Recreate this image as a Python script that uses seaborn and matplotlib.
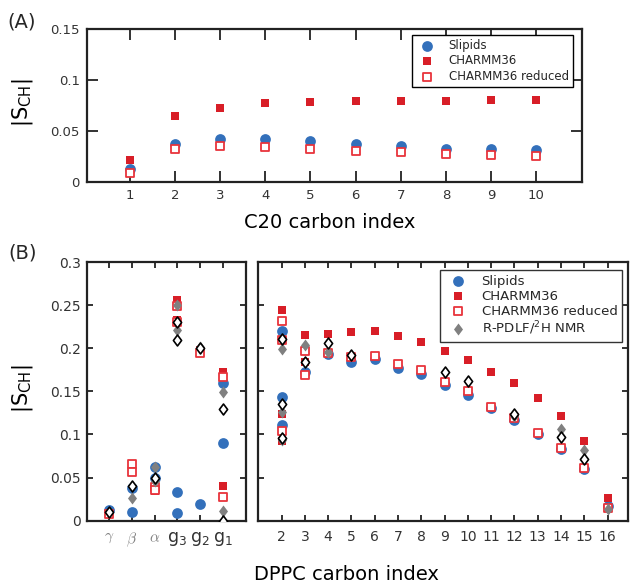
import numpy as np
import pandas as pd
import matplotlib
matplotlib.use("Agg")
import matplotlib.pyplot as plt
import seaborn as sns
from matplotlib.path import Path

sns.set_theme(style="ticks")
plt.rcParams['font.family'] = ['DejaVu Sans']

# ---------------- Panel A data (C20) ----------------
c20_carbons = [1, 2, 3, 4, 5, 6, 7, 8, 9, 10]
c20_slipids = [0.012, 0.0375, 0.0417, 0.0417, 0.040, 0.0375, 0.035, 0.0326, 0.032, 0.031]
c20_charmm = [0.0212, 0.0646, 0.0724, 0.077, 0.078, 0.0796, 0.0796, 0.079, 0.080, 0.080]
c20_reduced = [0.0088, 0.032, 0.035, 0.034, 0.032, 0.030, 0.0287, 0.0277, 0.026, 0.025]
c20_xticks = [1, 2, 3, 4, 5, 6, 7, 8, 9, 10]
a_yticks = [0, 0.05, 0.1, 0.15]
a_yticklabels = ["0", "0.05", "0.1", "0.15"]

# ---------------- Panel B data: head group ----------------
hg_keys = ["gamma", "beta", "alpha", "g3", "g2", "g1"]
hg_ticklabels = [r"$\gamma$", r"$\beta$", r"$\alpha$", r"g$_3$", r"g$_2$", r"g$_1$"]

hg_slipids_at = ["gamma", "beta", "beta", "alpha", "alpha", "g3", "g3", "g2", "g1", "g1"]
hg_slipids = [0.0124, 0.0375, 0.0104, 0.062, 0.049, 0.0336, 0.0093, 0.0193, 0.160, 0.0896]

hg_charmm_at = ["gamma", "beta", "beta", "alpha", "alpha", "g3", "g3", "g2", "g1", "g1"]
hg_charmm = [0.0085, 0.062, 0.058, 0.037, 0.034, 0.2556, 0.2324, 0.1977, 0.1726, 0.040]

hg_reduced_at = ["gamma", "beta", "beta", "alpha", "alpha", "g3", "g3", "g2", "g1", "g1"]
hg_reduced = [0.008, 0.066, 0.056, 0.039, 0.036, 0.2486, 0.2305, 0.1946, 0.1668, 0.0278]

hg_nmr_at = ["gamma", "beta", "alpha", "alpha", "g3", "g3", "g2", "g1", "g1"]
hg_nmr = [0.010, 0.026, 0.062, 0.046, 0.250, 0.2208, 0.2015, 0.1494, 0.0112]

hg_exp2_at = ["gamma", "beta", "alpha", "g3", "g3", "g2", "g1", "g1"]
hg_exp2 = [0.010, 0.0405, 0.050, 0.2305, 0.210, 0.2004, 0.129, 0.0]

# ---------------- Panel B data: acyl chain ----------------
ch_slipids_at = [2, 2, 2, 3, 4, 5, 6, 7, 8, 9, 10, 11, 12, 13, 14, 15, 16]
ch_slipids = [0.220, 0.144, 0.111, 0.173, 0.193, 0.1846, 0.1876, 0.1768, 0.1699,
              0.1575, 0.146, 0.1305, 0.117, 0.1008, 0.0834, 0.0602, 0.0166]

ch_charmm_at = [2, 2, 2, 3, 3, 4, 5, 6, 7, 8, 9, 10, 11, 12, 13, 14, 15, 16]
ch_charmm = [0.244, 0.124, 0.093, 0.2153, 0.184, 0.216, 0.219, 0.2205, 0.2147, 0.2077,
             0.197, 0.1865, 0.173, 0.1595, 0.142, 0.1216, 0.093, 0.0263]

ch_reduced_at = [2, 2, 2, 3, 3, 4, 5, 6, 7, 8, 9, 10, 11, 12, 13, 14, 15, 16]
ch_reduced = [0.232, 0.210, 0.104, 0.1967, 0.169, 0.194, 0.190, 0.1915, 0.1819, 0.1749,
              0.1614, 0.1506, 0.1324, 0.119, 0.1015, 0.084, 0.061, 0.0147]

ch_nmr_at = [2, 2, 2, 3, 4, 12, 14, 15, 16]
ch_nmr = [0.1986, 0.1257, 0.094, 0.2037, 0.196, 0.121, 0.1066, 0.0822, 0.0139]

ch_exp2_at = [2, 2, 2, 3, 4, 5, 9, 10, 12, 14, 15]
ch_exp2 = [0.2102, 0.135, 0.0955, 0.1836, 0.2064, 0.1923, 0.173, 0.1625, 0.124, 0.0965, 0.0718]

ch_xticks = [2, 3, 4, 5, 6, 7, 8, 9, 10, 11, 12, 13, 14, 15, 16]
b_yticks = [0, 0.05, 0.1, 0.15, 0.2, 0.25, 0.3]
b_yticklabels = ["0", "0.05", "0.1", "0.15", "0.2", "0.25", "0.3"]

# ---------------- styles ----------------
BLUE = "#3370bb"
RED = "#d81e27"
RED_OPEN = "#e8343c"
GREY = "#808080"
SPINE = "#222222"
TXT = "#333333"
diamond = Path([(0, 1), (0.75, 0), (0, -1), (-0.75, 0), (0, 1)],
               [Path.MOVETO, Path.LINETO, Path.LINETO, Path.LINETO, Path.CLOSEPOLY])

W, H = 632, 584
fig = plt.figure(figsize=(W / 100, H / 100), dpi=100)


def px_axes(l, t, r, b):
    return fig.add_axes([l / W, 1 - b / H, (r - l) / W, (b - t) / H])


axA = px_axes(86.7, 29, 581.7, 181.7)
axBL = px_axes(86.5, 262, 245.7, 520.7)
axBR = px_axes(258.3, 262, 628, 520.7)


def draw_series(ax, x, y, kind, label=None):
    if kind == "slipids":
        sns.scatterplot(x=x, y=y, ax=ax, marker="o", s=60, color=BLUE,
                        edgecolor=BLUE, linewidth=0, label=label, zorder=3)
    elif kind == "charmm":
        sns.scatterplot(x=x, y=y, ax=ax, marker="s", s=38, color=RED,
                        edgecolor=RED, linewidth=0, label=label, zorder=4)
    elif kind == "reduced":
        sns.scatterplot(x=x, y=y, ax=ax, marker="s", s=38, color=RED_OPEN,
                        facecolor="white", edgecolor=RED_OPEN, linewidth=1.3,
                        label=label, zorder=5)
    elif kind == "nmr":
        sns.scatterplot(x=x, y=y, ax=ax, marker=diamond, s=75, color=GREY,
                        edgecolor=GREY, linewidth=0, label=label, zorder=6)
    elif kind == "exp2":
        sns.scatterplot(x=x, y=y, ax=ax, marker=diamond, s=62, color="black",
                        facecolor="white", edgecolor="black", linewidth=1.2,
                        label=label, zorder=7)


# ---------------- Panel A ----------------
draw_series(axA, c20_carbons, c20_slipids, "slipids", "Slipids")
draw_series(axA, c20_carbons, c20_charmm, "charmm", "CHARMM36")
draw_series(axA, c20_carbons, c20_reduced, "reduced", "CHARMM36 reduced")
axA.set_xlim(0.05, 11)
axA.set_ylim(0, 0.15)
axA.set_xticks(c20_xticks)
axA.set_xticklabels([str(v) for v in c20_xticks])
axA.set_yticks(a_yticks)
axA.set_yticklabels(a_yticklabels)
axA.tick_params(direction="in", top=True, right=True, length=8, width=1.3,
                color=SPINE, labelcolor=TXT, labelsize=9.5, pad=5)
axA.set_xlabel("C20 carbon index", fontsize=14, color="black")
axA.xaxis.set_label_coords(329.5 / W, 1 - 213 / H, transform=fig.transFigure)
axA.set_ylabel(r"|S$_{\mathrm{CH}}$|", fontsize=15, color="black")
axA.yaxis.set_label_coords(35 / W, 1 - 103 / H, transform=fig.transFigure)
legA = axA.legend(loc="upper right", bbox_to_anchor=(573 / W, 1 - 35 / H),
                  bbox_transform=fig.transFigure, borderaxespad=0, fontsize=8.5,
                  frameon=True, fancybox=False, framealpha=1, edgecolor="black",
                  scatterpoints=1, handletextpad=0.8, labelspacing=0.2,
                  borderpad=0.35)
legA.get_frame().set_linewidth(1.0)

# ---------------- Panel B left (head group) ----------------
def hg_pos(keys):
    return [hg_keys.index(k) + 1 for k in keys]


draw_series(axBL, hg_pos(hg_slipids_at), hg_slipids, "slipids")
draw_series(axBL, hg_pos(hg_charmm_at), hg_charmm, "charmm")
draw_series(axBL, hg_pos(hg_reduced_at), hg_reduced, "reduced")
draw_series(axBL, hg_pos(hg_nmr_at), hg_nmr, "nmr")
draw_series(axBL, hg_pos(hg_exp2_at), hg_exp2, "exp2")
axBL.set_xlim(0, 7)
axBL.set_ylim(0, 0.3)
axBL.set_xticks(list(range(1, len(hg_keys) + 1)))
axBL.set_xticklabels(hg_ticklabels)
axBL.set_yticks(b_yticks)
axBL.set_yticklabels(b_yticklabels)
axBL.tick_params(direction="in", top=True, right=True, length=4.5, width=1.3,
                 color=SPINE, labelcolor=TXT, labelsize=10)
axBL.tick_params(axis="x", pad=7)
axBL.tick_params(axis="y", pad=4)
for lab, key in zip(axBL.get_xticklabels(), hg_keys):
    if key in ("gamma", "beta", "alpha"):
        lab.set_math_fontfamily("cm")
        lab.set_color("#808080")
        lab.set_fontsize(11)
    else:
        lab.set_fontsize(12.5)
axBL.set_ylabel(r"|S$_{\mathrm{CH}}$|", fontsize=15, color="black")
axBL.yaxis.set_label_coords(35 / W, 1 - 389 / H, transform=fig.transFigure)

# ---------------- Panel B right (acyl chain) ----------------
draw_series(axBR, ch_slipids_at, ch_slipids, "slipids", "Slipids")
draw_series(axBR, ch_charmm_at, ch_charmm, "charmm", "CHARMM36")
draw_series(axBR, ch_reduced_at, ch_reduced, "reduced", "CHARMM36 reduced")
draw_series(axBR, ch_nmr_at, ch_nmr, "nmr", r"R-PDLF/$^2$H NMR")
draw_series(axBR, ch_exp2_at, ch_exp2, "exp2")
axBR.set_xlim(1, 16.88)
axBR.set_ylim(0, 0.3)
axBR.set_xticks(ch_xticks)
axBR.set_xticklabels([str(v) for v in ch_xticks])
axBR.set_yticks(b_yticks)
axBR.set_yticklabels([])
axBR.tick_params(direction="in", top=True, right=True, length=4.5, width=1.3,
                 color=SPINE, labelcolor=TXT, labelsize=10)
axBR.tick_params(axis="x", pad=7)
legB = axBR.legend(loc="upper right", bbox_to_anchor=(622 / W, 1 - 270 / H),
                   bbox_transform=fig.transFigure, borderaxespad=0, fontsize=9.5,
                   frameon=True, fancybox=False, framealpha=1, edgecolor="#333333",
                   scatterpoints=1, handletextpad=0.8, labelspacing=0.15,
                   borderpad=0.35)
legB.get_frame().set_linewidth(1.0)

fig.text(346 / W, 1 - 580 / H, "DPPC carbon index", fontsize=14, ha="center",
         va="baseline", color="black")

for ax in (axA, axBL, axBR):
    for sp in ax.spines.values():
        sp.set_linewidth(1.6)
        sp.set_color(SPINE)

fig.text(22 / W, 1 - 22 / H, "(A)", fontsize=14, ha="center", va="center")
fig.text(23 / W, 1 - 253 / H, "(B)", fontsize=14, ha="center", va="center")

fig.savefig("out.png", dpi=100)
